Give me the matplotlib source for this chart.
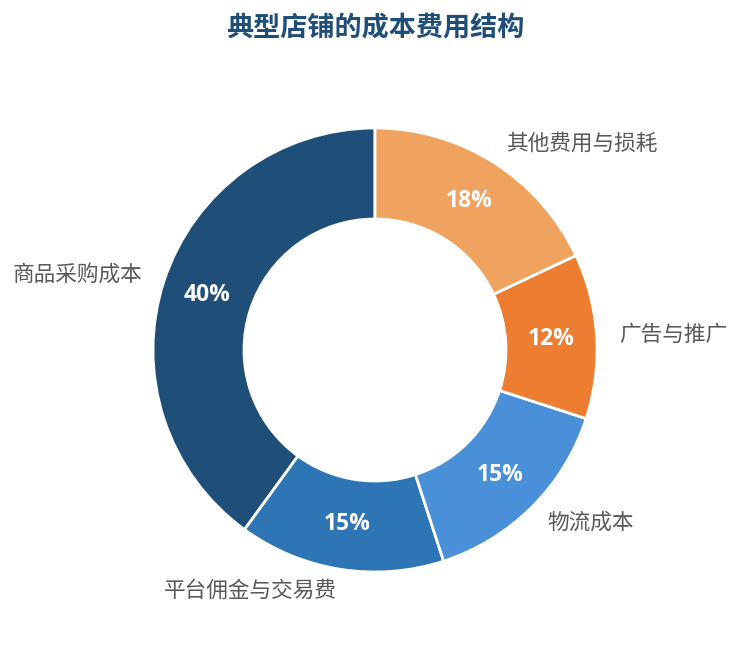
import matplotlib.pyplot as plt

plt.rcParams['font.family'] = ['Noto Sans CJK SC', 'DejaVu Sans']

# data
categories = ['商品采购成本', '平台佣金与交易费', '物流成本', '广告与推广', '其他费用与损耗']
shares = [40, 15, 15, 12, 18]
colors = ['#1f4e79', '#2e75b6', '#4a90d9', '#ed7d31', '#f0a35e']

cx, cy = 375, 295

fig = plt.figure(figsize=(7.4, 6.45), dpi=100)
ax = fig.add_axes([0, 0, 1, 1])

wedges, texts, autotexts = ax.pie(
    shares, labels=categories, colors=colors,
    startangle=90, counterclock=True,
    center=(cx, cy), radius=222,
    labeldistance=1.1, pctdistance=0.795,
    autopct='%1.0f%%',
    wedgeprops=dict(width=91, edgecolor='white', linewidth=2),
    textprops=dict(fontsize=15.6, color='#595959'),
    frame=True,
)
ax.set_xlim(0, 740)
ax.set_ylim(0, 645)
ax.set_aspect('equal')
ax.axis('off')

# pie() picks alignment from the sign of x, which breaks with a shifted centre
for t in texts:
    x, y = t.get_position()
    t.set_ha('left' if x > cx else 'right')
    t.set_va('center')

for t in autotexts:
    t.set_color('white')
    t.set_fontweight('bold')
    t.set_fontsize(16.5)
    t.set_family(['Open Sans', 'DejaVu Sans'])

fig.text(cx / 740, 0.957, '典型店铺的成本费用结构', ha='center', va='center',
         fontsize=19.5, fontweight='bold', color='#1f4e79')

fig.savefig('out.png', dpi=100)
